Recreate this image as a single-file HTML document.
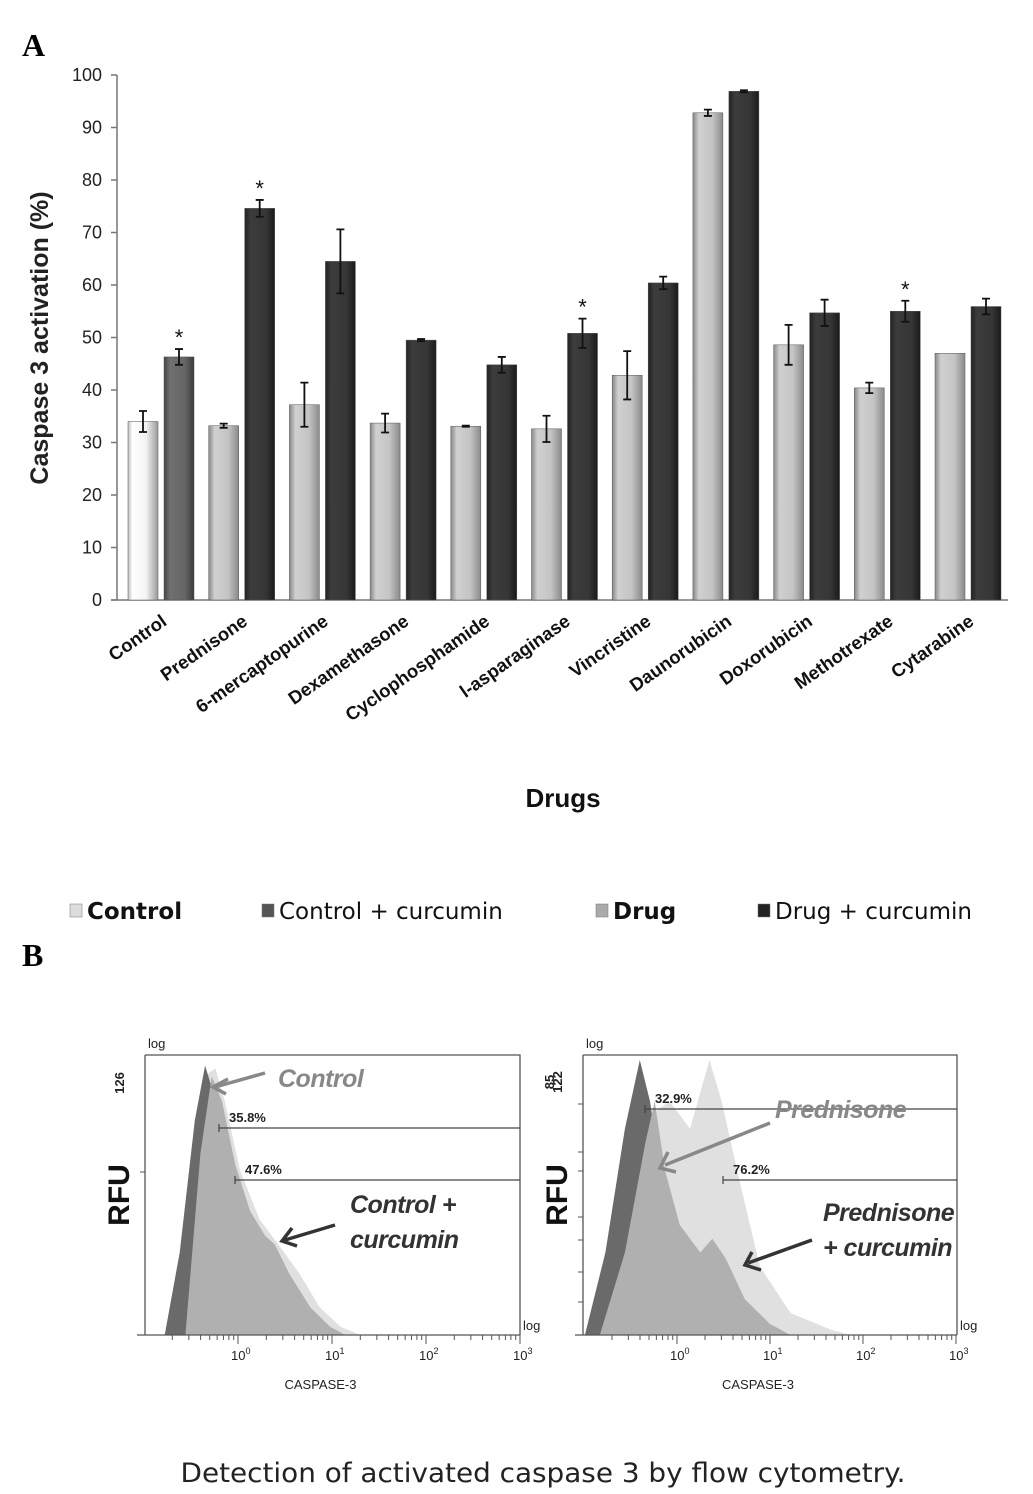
<!DOCTYPE html>
<html><head><meta charset="utf-8"><style>
body{margin:0;background:#fff}
svg{display:block}
text{font-family:"Liberation Sans",sans-serif}
</style></head><body>
<svg id="s" width="1033" height="1494" viewBox="0 0 1033 1494">
<defs>
<linearGradient id="gW" x1="0" x2="1"><stop offset="0" stop-color="#bbb"/><stop offset=".15" stop-color="#fff"/><stop offset=".6" stop-color="#f4f4f4"/><stop offset="1" stop-color="#999"/></linearGradient>
<linearGradient id="gM" x1="0" x2="1"><stop offset="0" stop-color="#444"/><stop offset=".2" stop-color="#707070"/><stop offset=".7" stop-color="#666"/><stop offset="1" stop-color="#3a3a3a"/></linearGradient>
<linearGradient id="gL" x1="0" x2="1"><stop offset="0" stop-color="#888"/><stop offset=".2" stop-color="#d0d0d0"/><stop offset=".65" stop-color="#c4c4c4"/><stop offset="1" stop-color="#8a8a8a"/></linearGradient>
<linearGradient id="gD" x1="0" x2="1"><stop offset="0" stop-color="#222"/><stop offset=".2" stop-color="#3c3c3c"/><stop offset=".7" stop-color="#363636"/><stop offset="1" stop-color="#1a1a1a"/></linearGradient>
</defs>
<text x="22" y="56" font-weight="bold" font-size="32" style="font-family:'Liberation Serif',serif">A</text>
<text x="22" y="966" font-weight="bold" font-size="32" style="font-family:'Liberation Serif',serif">B</text>
<g id="chartA"></g>
<g id="flow"></g>
<text x="543" y="1482" text-anchor="middle" font-size="27" fill="#222" textLength="725" lengthAdjust="spacingAndGlyphs" style="font-family:'DejaVu Sans',sans-serif">Detection of activated caspase 3 by flow cytometry.</text>
</svg>
<script>
const categories=["Control","Prednisone","6-mercaptopurine","Dexamethasone","Cyclophosphamide","l-asparaginase","Vincristine","Daunorubicin","Doxorubicin","Methotrexate","Cytarabine"];
const drugValues=[34,33.2,37.2,33.7,33.1,32.6,42.8,92.8,48.6,40.4,47];
const drugErrors=[2,0.4,4.2,1.8,0.1,2.5,4.6,0.6,3.8,1,0];
const curcuminValues=[46.3,74.6,64.5,49.5,44.8,50.8,60.4,96.9,54.7,55,55.9];
const curcuminErrors=[1.5,1.6,6.1,0.2,1.5,2.8,1.2,0.2,2.5,2,1.5];
const significant=[true,true,false,false,false,true,false,false,false,true,false];
const yTicks=[0,10,20,30,40,50,60,70,80,90,100];
const legendLabels=["Control","Control + curcumin","Drug","Drug + curcumin"];
// flow histograms: [log10 intensity, relative count]
const leftLight=[[-0.67,0],[-0.46,0.5],[-0.32,0.95],[-0.24,0.97],[-0.14,0.85],[0.02,0.6],[0.23,0.42],[0.45,0.32],[0.66,0.22],[0.87,0.1],[1.09,0.03],[1.3,0]];
const leftDark=[[-0.78,0],[-0.62,0.3],[-0.46,0.78],[-0.35,0.98],[-0.28,0.9],[-0.14,0.3],[-0.03,0]];
const leftMed=[[-0.56,0],[-0.4,0.66],[-0.28,0.94],[-0.17,0.85],[-0.03,0.62],[0.13,0.45],[0.29,0.36],[0.39,0.33],[0.55,0.22],[0.77,0.1],[0.98,0.03],[1.14,0]];
const rightLight=[[-0.5,0],[-0.29,0.8],[-0.08,0.85],[0.14,0.75],[0.35,1.0],[0.48,0.85],[0.68,0.55],[0.89,0.25],[1.22,0.08],[1.65,0.02],[1.86,0]];
const rightDark=[[-0.99,0],[-0.77,0.3],[-0.56,0.75],[-0.4,1.0],[-0.29,0.85],[-0.18,0.6],[-0.08,0.2],[0.03,0]];
const rightMed=[[-0.83,0],[-0.56,0.3],[-0.34,0.7],[-0.24,0.85],[-0.13,0.6],[0.03,0.4],[0.25,0.3],[0.38,0.35],[0.52,0.28],[0.73,0.13],[1.0,0.04],[1.22,0]];

const NS="http://www.w3.org/2000/svg";
function mk(p,t,a,txt){const e=document.createElementNS(NS,t);for(const k in a)e.setAttribute(k,a[k]);if(txt!==undefined)e.textContent=txt;p.appendChild(e);return e;}
const A=document.getElementById('chartA');
const X0=117,Y0=600,PX=5.25,GW=80.7;
const y=v=>Y0-v*PX;
const gx=i=>X0+11+i*GW;
let e=mk(A,'line',{x1:X0,y1:75,x2:X0,y2:Y0,stroke:'#777','stroke-width':1.5});

e=mk(A,'line',{x1:X0-6,y1:Y0,x2:1008,y2:Y0,stroke:'#777','stroke-width':1.5});

yTicks.forEach(t=>{
 mk(A,'line',{x1:X0-6,y1:y(t),x2:X0,y2:y(t),stroke:'#777','stroke-width':1.5});
 const l=mk(A,'text',{x:102,y:y(t)+6,'text-anchor':'end','font-size':18,fill:'#222'},t);
 
 
});
e=mk(A,'text',{x:0,y:0,transform:'translate(48,338) rotate(-90)','text-anchor':'middle','font-size':25,'font-weight':'bold',fill:'#222'},'Caspase 3 activation (%)');

function bar(x,v,err,fill,name){
 const r=mk(A,'rect',{x:x,y:y(v),width:30,height:Y0-y(v),fill:fill,stroke:'#555','stroke-width':0.5});
 
 
 if(err>0){const c=x+15;
  mk(A,'path',{d:`M${c},${y(v+err)}V${y(v-err)}M${c-4},${y(v+err)}h8M${c-4},${y(v-err)}h8`,stroke:'#111','stroke-width':1.8,fill:'none'});}
}
categories.forEach((c,i)=>{
 const x=gx(i);
 bar(x,drugValues[i],drugErrors[i],i===0?'url(#gW)':'url(#gL)',i===0?'bar-control':'bar-drug');
 bar(x+36,curcuminValues[i],curcuminErrors[i],i===0?'url(#gM)':'url(#gD)',i===0?'bar-control-curcumin':'bar-drug-curcumin');
 if(significant[i]){const s=mk(A,'text',{x:x+51,y:y(curcuminValues[i]+curcuminErrors[i])-4,'text-anchor':'middle','font-size':22,fill:'#111'},'*');
  }
 const l=mk(A,'text',{x:0,y:0,transform:`translate(${x+40},624) rotate(-35)`,'text-anchor':'end','font-size':18.5,'font-weight':'bold',fill:'#111'},c);
 
 
});
e=mk(A,'text',{x:563,y:807,'text-anchor':'middle','font-size':26,'font-weight':'bold',fill:'#111'},'Drugs');

const lgX=[70,262,596,758],lgF=['#ddd','#555','#aaa','#222'],lgB=[true,false,true,false];
legendLabels.forEach((t,i)=>{
 const g=mk(A,'g',{});
 
 
 mk(g,'rect',{x:lgX[i],y:904,width:12,height:13,fill:lgF[i],stroke:'#777','stroke-width':0.5});
 mk(g,'text',{x:lgX[i]+17,y:919,'font-size':23,'font-weight':lgB[i]?'bold':'normal',fill:'#111',style:"font-family:'DejaVu Sans',sans-serif"},t);
});
const F=document.getElementById('flow');
function panel(left,right,x0,dec,top,bottom,series,opts){
 const g=mk(F,'g',{});
 
 
 const fx=l=>x0+l*dec, fy=f=>bottom-f*(bottom-top-5);
 const cols=['#e0e0e0','#6a6a6a','#b0b0b0'];
 series.forEach((s,k)=>{
  const d='M'+s.map(p=>fx(p[0]).toFixed(1)+','+fy(p[1]).toFixed(1)).join('L')+'Z';
  const p=mk(g,'path',{d:d,fill:cols[k]});
  
  
 });
 mk(g,'path',{d:`M${left},${top}H${right}V${bottom}M${left-8},${bottom}H${right}M${left},${top}V${bottom}`,stroke:'#555','stroke-width':1.3,fill:'none'});
 for(let dcd=-1;dcd<3;dcd++)for(let m=1;m<10;m++){const xx=fx(dcd+Math.log10(m));if(xx<left+5)continue;
  mk(g,'line',{x1:xx,y1:bottom,x2:xx,y2:bottom+(m===1?9:5),stroke:'#555'});}
 mk(g,'line',{x1:fx(3),y1:bottom,x2:fx(3),y2:bottom+9,stroke:'#555'});
 [0,1,2,3].forEach(k=>{const t=mk(g,'text',{x:fx(k)-7,y:bottom+25,'font-size':13,fill:'#222'},'10');
  mk(t,'tspan',{dy:-6,'font-size':9},String(k));});
 mk(g,'text',{x:left+3,y:top-7,'font-size':13,fill:'#222'},'log');
 mk(g,'text',{x:right+3,y:bottom-5,'font-size':13,fill:'#222'},'log');
 mk(g,'text',{x:(left+right)/2-12,y:bottom+54,'text-anchor':'middle','font-size':13,fill:'#222'},'CASPASE-3');
 mk(g,'text',{x:0,y:0,transform:`translate(${left-16},${(top+bottom)/2}) rotate(-90)`,'text-anchor':'middle','font-size':30,'font-weight':'bold',fill:'#111'},'RFU');
 opts.gates.forEach(gt=>{mk(g,'path',{d:`M${gt[0]},${gt[1]}H${right}M${gt[0]},${gt[1]-4}v8`,stroke:'#444','stroke-width':1.2});
  mk(g,'text',{x:gt[0]+10,y:gt[1]-6,'font-size':13,'font-weight':'bold',fill:'#222'},gt[2]);});
 opts.yt.forEach(v=>mk(g,'line',{x1:left-5,y1:v,x2:left,y2:v,stroke:'#555'}));
 opts.labels.forEach(lb=>mk(g,'text',{x:lb[0],y:lb[1],'font-size':25,'font-style':'italic','font-weight':'bold',fill:lb[2],'letter-spacing':'-0.5'},lb[3]));
 opts.arrows.forEach(a=>mk(g,'path',{d:`M${a[0]},${a[1]}L${a[2]},${a[3]}`,stroke:a[4],'stroke-width':3.5,fill:'none'}));
 opts.heads.forEach(h=>mk(g,'path',{d:h[0],stroke:h[1],'stroke-width':3.5,fill:'none'}));
 opts.ylabels.forEach(t=>mk(g,'text',{x:0,y:0,transform:`translate(${t[0]},${t[1]}) rotate(-90)`,'text-anchor':'middle','font-size':13,'font-weight':'bold',fill:'#222'},t[2]));
}
panel(145,520,238,94,1055,1335,[leftLight,leftDark,leftMed],{name:'flow-panel-control',
 gates:[[219,1128,'35.8%'],[235,1180,'47.6%']],yt:[1172],
 labels:[[278,1087,'#888','Control'],[350,1213,'#333','Control +'],[350,1248,'#333','curcumin']],
 arrows:[[265,1073,215,1087,'#888'],[335,1225,285,1240,'#333']],
 heads:[['M228,1079L213,1087L226,1094','#888'],['M292,1228L282,1241L297,1246','#333']],
 ylabels:[[124,1083,'126']]});
panel(583,957,677,93,1055,1335,[rightLight,rightDark,rightMed],{name:'flow-panel-prednisone',
 gates:[[645,1109,'32.9%'],[723,1180,'76.2%']],yt:[1104,1152,1171,1217,1240,1272,1302],
 labels:[[775,1118,'#888','Prednisone'],[823,1221,'#333','Prednisone'],[823,1256,'#333','+ curcumin']],
 arrows:[[770,1123,665,1165,'#888'],[812,1240,748,1263,'#333']],
 heads:[['M668,1152L660,1168L676,1172','#888'],['M752,1252L745,1265L761,1270','#333']],
 ylabels:[[562,1082,'122'],[554,1082,'85']]});
</script>
</body></html>
